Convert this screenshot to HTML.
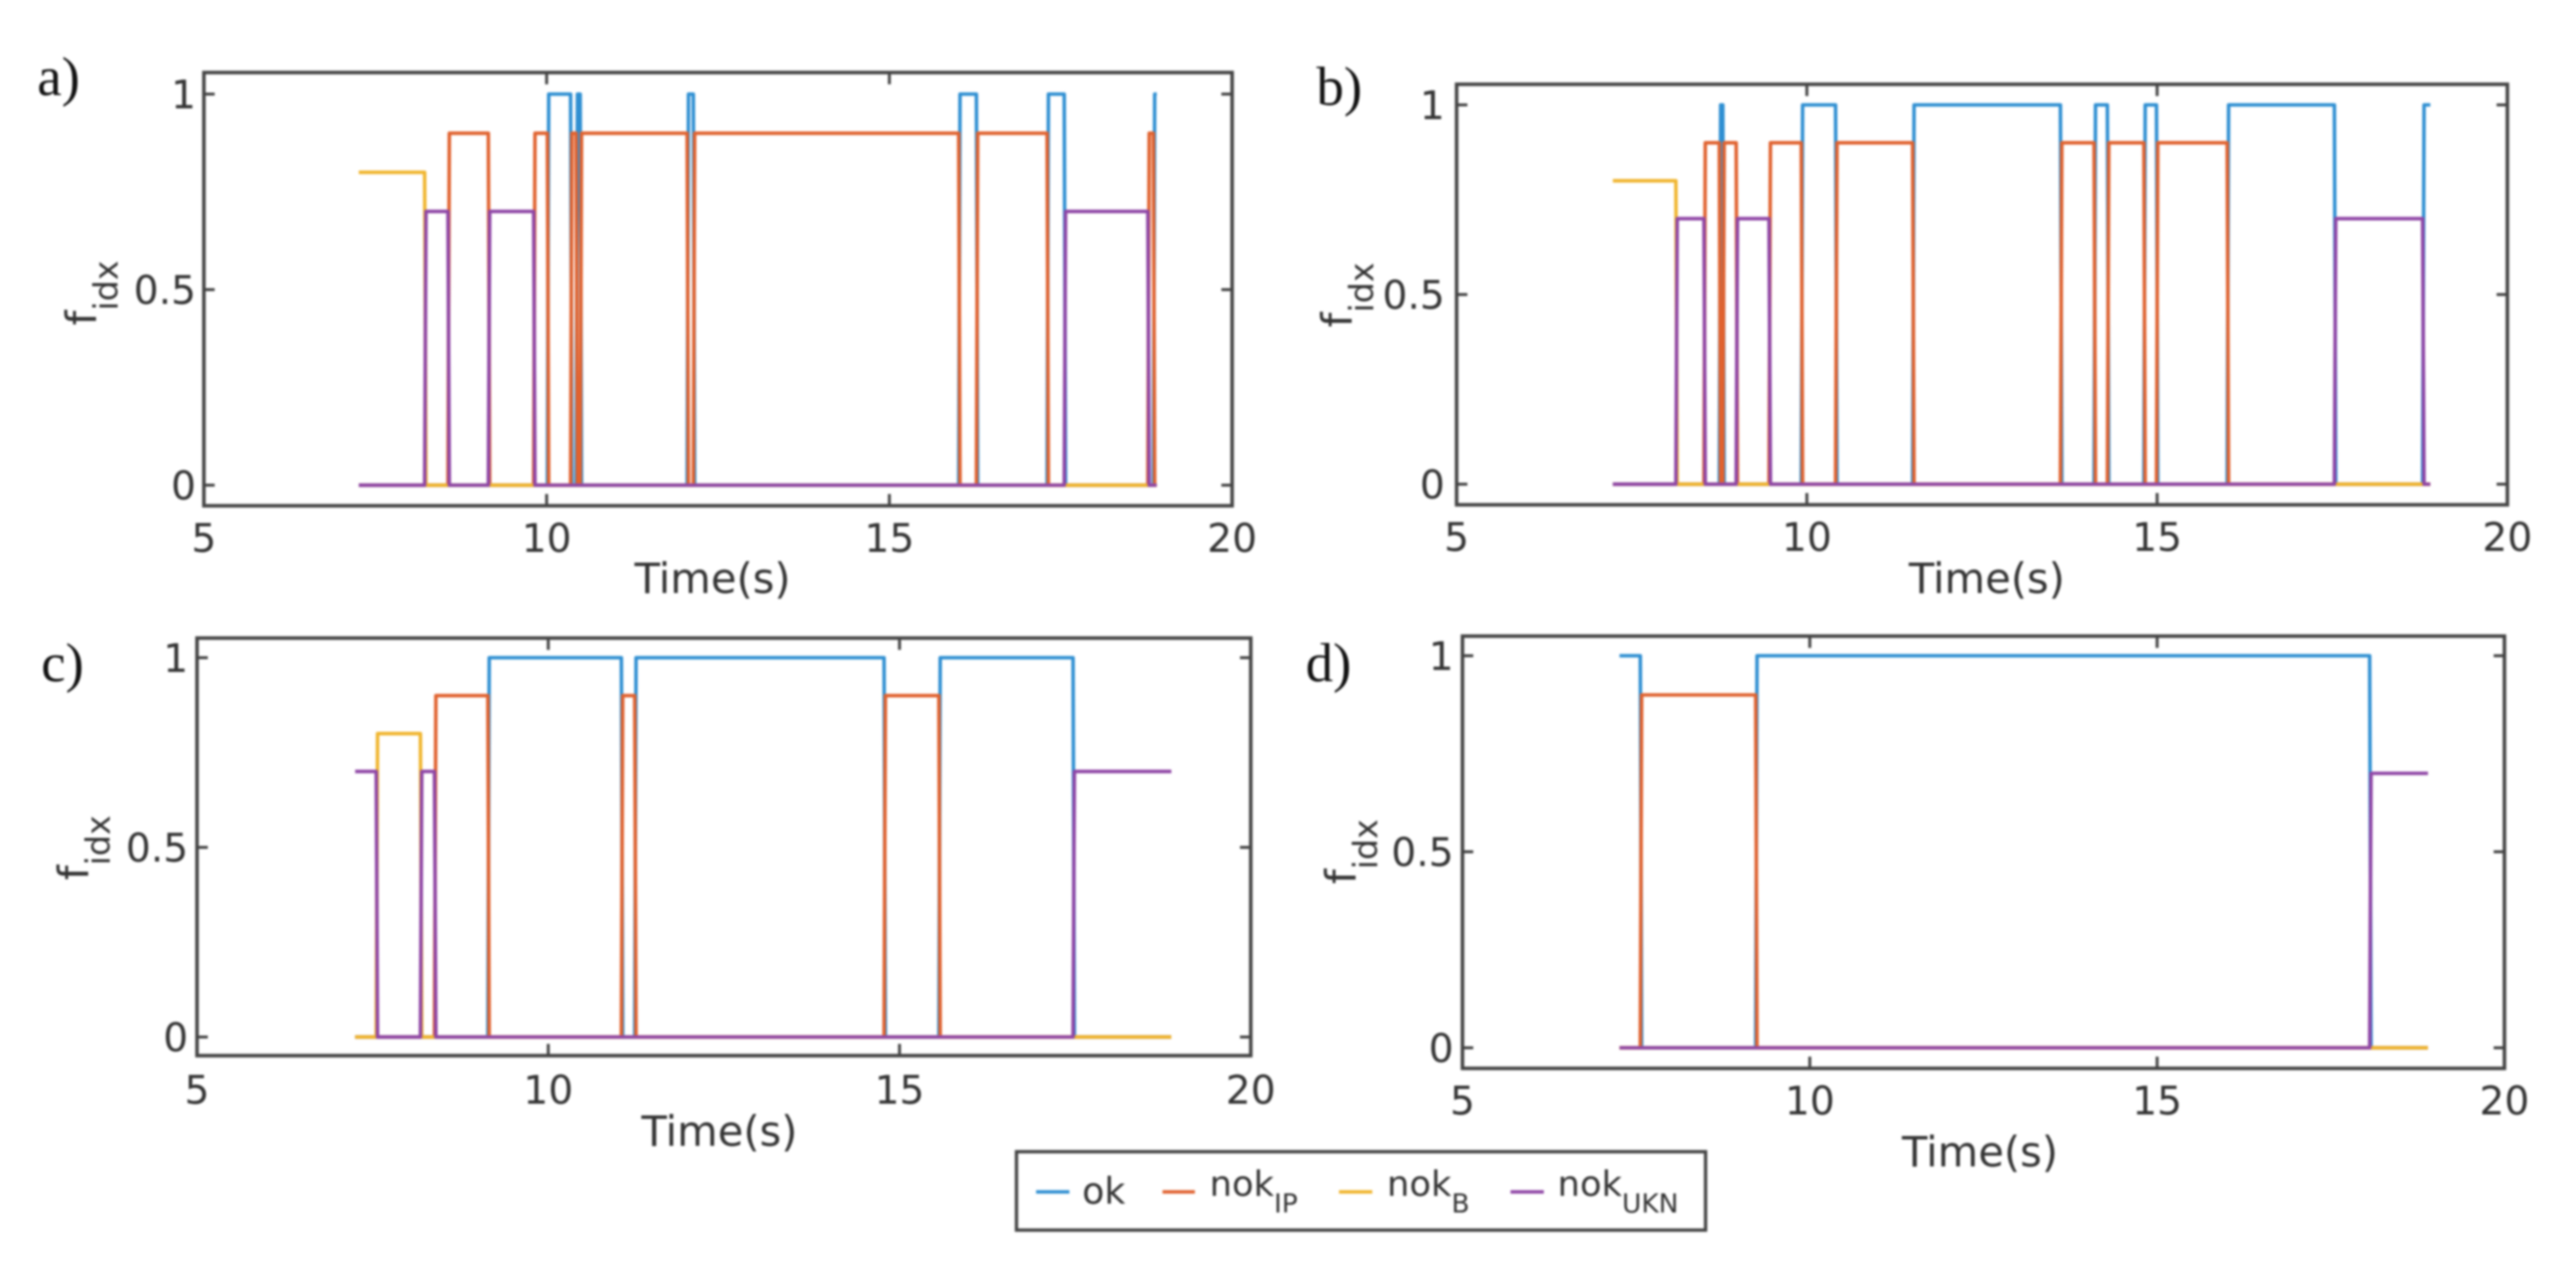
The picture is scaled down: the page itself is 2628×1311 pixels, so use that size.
<!DOCTYPE html>
<html lang="en">
<head>
<meta charset="utf-8">
<title>fidx over time, four panels</title>
<style>
html,body{margin:0;padding:0;background:#fff;width:2628px;height:1311px;overflow:hidden}
svg{display:block;filter:blur(1.05px)}
text{font-family:"DejaVu Sans","Liberation Sans",sans-serif;fill:#333}
.panel-letter{font-family:"Liberation Serif",serif;font-size:56px;fill:#111}
</style>
</head>
<body>
<svg id="chart" xmlns="http://www.w3.org/2000/svg" width="2628" height="1311" viewBox="0 0 2628 1311">
  <g id="plots"></g>
  <g>
    <rect x="1037" y="1175" width="703" height="80" fill="#fff" stroke="#444" stroke-width="3.4"/>
    <g>
      <line x1="1057" x2="1091" y1="1216" y2="1216" stroke="#2f8fd2" stroke-width="3.6"/>
      <text x="1104" y="1228" font-size="37">ok</text>
    </g>
    <g>
      <line x1="1186" x2="1219" y1="1216" y2="1216" stroke="#e0622f" stroke-width="3.6"/>
      <text x="1234" y="1220" font-size="36">nok<tspan dy="17" font-size="27">IP</tspan></text>
    </g>
    <g>
      <line x1="1366" x2="1400" y1="1216" y2="1216" stroke="#f0b52e" stroke-width="3.6"/>
      <text x="1415" y="1220" font-size="36">nok<tspan dy="17" font-size="27">B</tspan></text>
    </g>
    <g>
      <line x1="1541" x2="1575" y1="1216" y2="1216" stroke="#8f46a6" stroke-width="3.6"/>
      <text x="1589" y="1220" font-size="36">nok<tspan dy="17" font-size="27">UKN</tspan></text>
    </g>
  </g>
</svg>
<script>
// Axis tick labels
const xTicks = [5, 10, 15, 20];
const yTicks = [0, 0.5, 1];

// Panel a: state-change times and the value of each series between them
const panelATimes = [7.26, 8.23, 8.57, 9.16, 9.82, 10.02, 10.36, 10.44, 10.5, 12.06, 12.15, 16.02, 16.28, 17.31, 17.56, 18.78, 18.86, 18.9];
const panelAOk  = [0, 0, 0, 0, 0, 1, 0, 1, 0, 1, 0, 1, 0, 1, 0, 0, 1];
const panelAIp  = [0, 0, 0.9, 0, 0.9, 0, 0.9, 0, 0.9, 0, 0.9, 0, 0.9, 0, 0, 0.9, 0];
const panelAB   = [0.8, 0, 0, 0, 0, 0, 0, 0, 0, 0, 0, 0, 0, 0, 0, 0, 0];
const panelAUkn = [0, 0.7, 0, 0.7, 0, 0, 0, 0, 0, 0, 0, 0, 0, 0, 0.7, 0, 0];

// Panel b
const panelBTimes = [7.23, 8.14, 8.54, 8.76, 8.81, 9.0, 9.47, 9.93, 10.42, 11.52, 13.63, 14.11, 14.3, 14.82, 15.0, 16.01, 17.54, 18.8, 18.9];
const panelBOk  = [0, 0, 0, 1, 0, 0, 0, 1, 0, 1, 0, 1, 0, 1, 0, 1, 0, 1];
const panelBIp  = [0, 0, 0.9, 0, 0.9, 0, 0.9, 0, 0.9, 0, 0.9, 0, 0.9, 0, 0.9, 0, 0, 0];
const panelBB   = [0.8, 0, 0, 0, 0, 0, 0, 0, 0, 0, 0, 0, 0, 0, 0, 0, 0, 0];
const panelBUkn = [0, 0.7, 0, 0, 0, 0.7, 0, 0, 0, 0, 0, 0, 0, 0, 0, 0, 0.7, 0];

// Panel c
const panelCTimes = [7.25, 7.56, 8.19, 8.39, 9.15, 11.05, 11.24, 14.79, 15.57, 17.48, 18.87];
const panelCOk  = [0, 0, 0, 0, 1, 0, 1, 0, 1, 0];
const panelCIp  = [0, 0, 0, 0.9, 0, 0.9, 0, 0.9, 0, 0];
const panelCB   = [0, 0.8, 0, 0, 0, 0, 0, 0, 0, 0];
const panelCUkn = [0.7, 0, 0.7, 0, 0, 0, 0, 0, 0, 0.7];

// Panel d
const panelDTimes = [7.26, 7.57, 9.23, 18.07, 18.9];
const panelDOk  = [1, 0, 1, 0];
const panelDIp  = [0, 0.9, 0, 0];
const panelDB   = [0, 0, 0, 0];
const panelDUkn = [0, 0, 0, 0.7];

const SVG_NS = 'http://www.w3.org/2000/svg';
const seriesColors = {ok: '#2f8fd2', ip: '#e0622f', b: '#f0b52e', ukn: '#8f46a6'};
const X_MIN = 5, X_MAX = 20;
const RAMP = 0.02;

const panels = [
  {id: 'a', L: 208, R: 1257, T: 74, B: 516, y1: 96, y0: 495, tickBase: 563, timeX: 727, timeBase: 605, fx: 98, fy: 332, yLabelX: 200, lx: 38, ly: 97,
   times: panelATimes, ok: panelAOk, ip: panelAIp, b: panelAB, ukn: panelAUkn},
  {id: 'b', L: 1486, R: 2558, T: 86, B: 515, y1: 107, y0: 494, tickBase: 562, timeX: 2027, timeBase: 605, fx: 1379, fy: 334, yLabelX: 1474, lx: 1343, ly: 107,
   times: panelBTimes, ok: panelBOk, ip: panelBIp, b: panelBB, ukn: panelBUkn},
  {id: 'c', L: 201, R: 1276, T: 651, B: 1077, y1: 671, y0: 1058, tickBase: 1126, timeX: 734, timeBase: 1169, fx: 90, fy: 898, yLabelX: 192, lx: 42, ly: 695,
   times: panelCTimes, ok: panelCOk, ip: panelCIp, b: panelCB, ukn: panelCUkn},
  {id: 'd', L: 1492, R: 2555, T: 649, B: 1090, y1: 669, y0: 1069, tickBase: 1137, timeX: 2020, timeBase: 1190, fx: 1383, fy: 902, yLabelX: 1483, lx: 1332, ly: 695,
   times: panelDTimes, ok: panelDOk, ip: panelDIp, b: panelDB, ukn: panelDUkn}
];

function make(tag, parent) {
  const node = document.createElementNS(SVG_NS, tag);
  parent.appendChild(node);
  return node;
}

function stepPoints(times, values, xScale, yScale) {
  const pts = [];
  values.forEach(function (v, i) {
    const start = i === 0 ? times[0] : times[i] + RAMP / 2;
    const end = i === values.length - 1 ? times[i + 1] : times[i + 1] - RAMP / 2;
    pts.push(xScale(start).toFixed(1) + ',' + yScale(v).toFixed(1));
    pts.push(xScale(end).toFixed(1) + ',' + yScale(v).toFixed(1));
  });
  return pts.join(' ');
}

const plots = document.getElementById('plots');

panels.forEach(function (p) {
  const xScale = function (t) { return p.L + (t - X_MIN) / (X_MAX - X_MIN) * (p.R - p.L); };
  const yScale = function (v) { return p.y0 + (p.y1 - p.y0) * v; };

  const group = make('g', plots);
  
  

  ['ok', 'ip', 'b', 'ukn'].forEach(function (key) {
    const line = make('polyline', group);
    
    
    line.setAttribute('points', stepPoints(p.times, p[key], xScale, yScale));
    line.setAttribute('fill', 'none');
    line.setAttribute('stroke', seriesColors[key]);
    line.setAttribute('stroke-width', '3.6');
    line.setAttribute('stroke-linejoin', 'round');
  });

  const frame = make('rect', group);
  
  
  frame.setAttribute('x', p.L);
  frame.setAttribute('y', p.T);
  frame.setAttribute('width', p.R - p.L);
  frame.setAttribute('height', p.B - p.T);
  frame.setAttribute('fill', 'none');
  frame.setAttribute('stroke', '#444');
  frame.setAttribute('stroke-width', '3.6');

  xTicks.forEach(function (t) {
    const x = xScale(t);
    if (t !== X_MIN && t !== X_MAX) {
      [[p.B, p.B - 12], [p.T, p.T + 12]].forEach(function (ends) {
        const tick = make('line', group);
        
        
        tick.setAttribute('x1', x);
        tick.setAttribute('x2', x);
        tick.setAttribute('y1', ends[0]);
        tick.setAttribute('y2', ends[1]);
        tick.setAttribute('stroke', '#444');
        tick.setAttribute('stroke-width', '3');
      });
    }
    const label = make('text', group);
    
    
    label.setAttribute('x', x);
    label.setAttribute('y', p.tickBase);
    label.setAttribute('font-size', '40');
    label.setAttribute('text-anchor', 'middle');
    label.textContent = t;
  });

  yTicks.forEach(function (v) {
    const y = yScale(v);
    [[p.L, p.L + 11], [p.R, p.R - 11]].forEach(function (ends) {
      const tick = make('line', group);
      
      
      tick.setAttribute('x1', ends[0]);
      tick.setAttribute('x2', ends[1]);
      tick.setAttribute('y1', y);
      tick.setAttribute('y2', y);
      tick.setAttribute('stroke', '#444');
      tick.setAttribute('stroke-width', '3');
    });
    const label = make('text', group);
    
    
    label.setAttribute('x', p.yLabelX);
    label.setAttribute('y', y + 14.5);
    label.setAttribute('font-size', '40');
    label.setAttribute('text-anchor', 'end');
    label.textContent = v;
  });

  const timeTitle = make('text', group);
  
  
  timeTitle.setAttribute('x', p.timeX);
  timeTitle.setAttribute('y', p.timeBase);
  timeTitle.setAttribute('font-size', '42.5');
  timeTitle.setAttribute('text-anchor', 'middle');
  timeTitle.textContent = 'Time(s)';

  const yTitle = make('text', group);
  
  
  yTitle.setAttribute('transform', 'translate(' + p.fx + ',' + p.fy + ') rotate(-90)');
  yTitle.setAttribute('font-size', '43');
  const fPart = make('tspan', yTitle);
  fPart.textContent = 'f';
  const subPart = make('tspan', yTitle);
  subPart.setAttribute('dy', '22');
  subPart.setAttribute('font-size', '34');
  subPart.textContent = 'idx';

  const letter = make('text', group);
  
  
  letter.setAttribute('class', 'panel-letter');
  letter.setAttribute('x', p.lx);
  letter.setAttribute('y', p.ly);
  letter.textContent = p.id + ')';
});
</script>
</body>
</html>
